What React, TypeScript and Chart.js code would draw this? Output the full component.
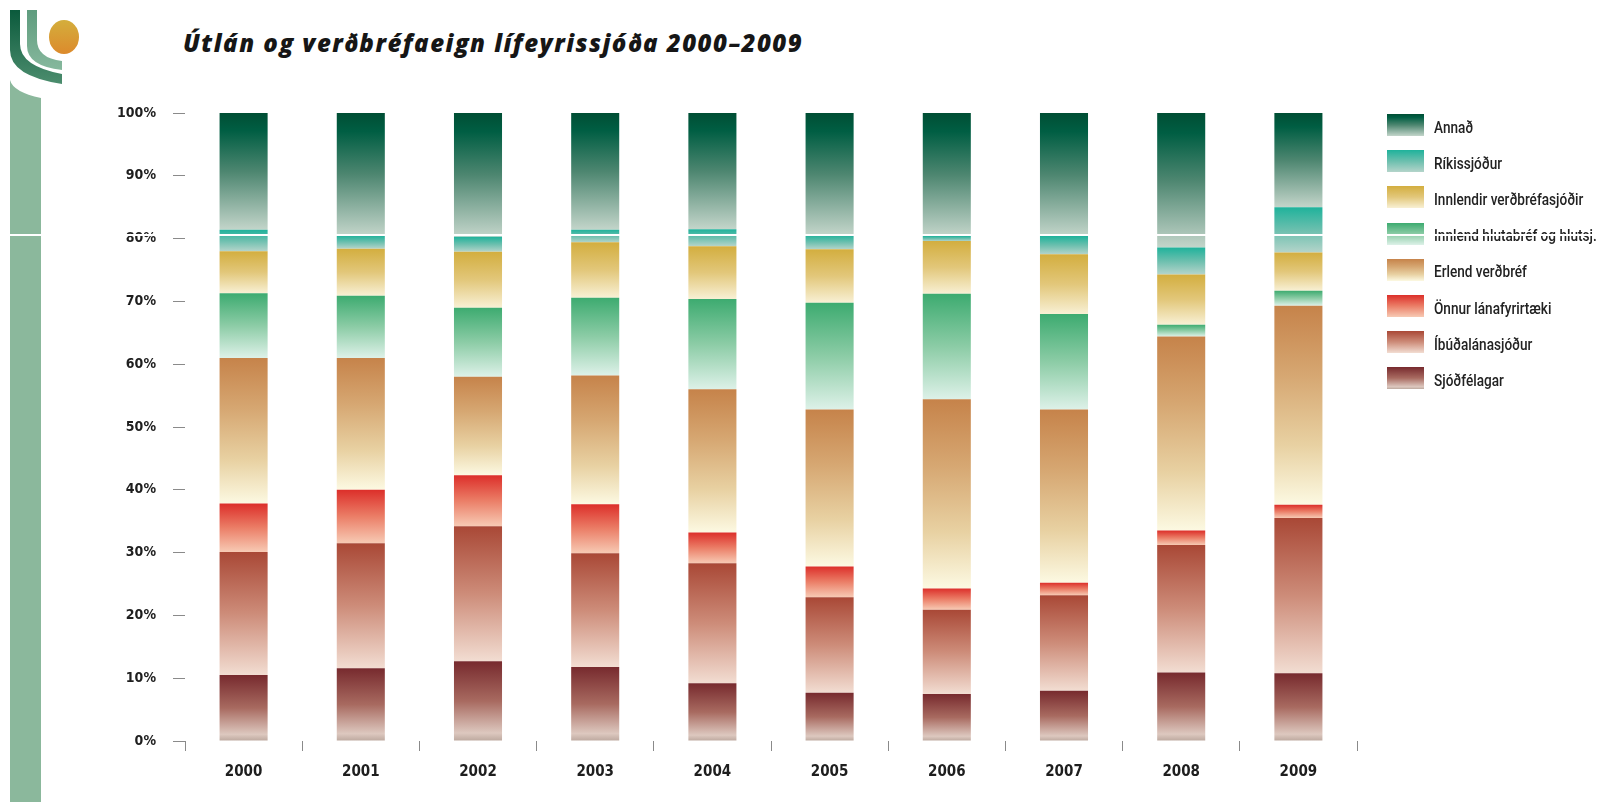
import React, { useEffect, useRef } from "react";
import { Chart, registerables } from "chart.js";

Chart.register(...registerables);

// ---------- DATA ----------
const years = ["2000", "2001", "2002", "2003", "2004", "2005", "2006", "2007", "2008", "2009"];
const sjodfelagar = [10.5, 11.6, 12.7, 11.8, 9.2, 7.7, 7.5, 8.0, 10.9, 10.8];
const ibudalanasjodur = [19.6, 19.9, 21.5, 18.1, 19.1, 15.2, 13.4, 15.2, 20.3, 24.7];
const onnurLanafyrirtaeki = [7.7, 8.5, 8.1, 7.8, 4.9, 4.9, 3.4, 2.0, 2.3, 2.1];
const erlendVerdbref = [23.2, 21.0, 15.7, 20.5, 22.8, 25.0, 30.1, 27.6, 30.9, 31.7];
const innlendHlutabref = [10.3, 9.9, 11.0, 12.4, 14.4, 17.0, 16.8, 15.2, 1.9, 2.4];
const innlendirVerdbrefasjodir = [6.7, 7.5, 8.9, 8.8, 8.4, 8.5, 8.4, 9.5, 8.0, 6.1];
const rikissjodur = [3.4, 2.1, 2.4, 2.0, 2.7, 2.3, 0.8, 2.9, 4.3, 7.2];
const annad = [18.6, 19.5, 19.7, 18.6, 18.5, 19.4, 19.6, 19.6, 21.4, 15.0];

const seriesLabels = [
  "Sjóðfélagar",
  "Íbúðalánasjóður",
  "Önnur lánafyrirtæki",
  "Erlend verðbréf",
  "Innlend hlutabréf og hlutsj.",
  "Innlendir verðbréfasjóðir",
  "Ríkissjóður",
  "Annað",
];
const seriesValues = [
  sjodfelagar,
  ibudalanasjodur,
  onnurLanafyrirtaeki,
  erlendVerdbref,
  innlendHlutabref,
  innlendirVerdbrefasjodir,
  rikissjodur,
  annad,
];
const yMin = 0;
const yMax = 100;
const yStep = 10;
const titleText = "Útlán og verðbréfaeign lífeyrissjóða 2000–2009";

// ---------- STYLE ----------
type Stop = [number, string];
const seriesStops: Stop[][] = [
  [[0, "#772a2e"], [0.5, "#a86a60"], [0.9, "#ddc8bf"], [1, "#bca89e"]],
  [[0, "#a94836"], [0.5, "#cd8c79"], [1, "#f2ddd2"]],
  [[0, "#dc2f2a"], [0.5, "#eb7e67"], [1, "#f7cab4"]],
  [[0, "#c6834a"], [0.35, "#d6a772"], [0.7, "#e8d1a2"], [1, "#fcf9e2"]],
  [[0, "#3dab70"], [0.5, "#8ccca6"], [1, "#ddf1e8"]],
  [[0, "#d3ae3f"], [0.5, "#e2c77a"], [1, "#f8f0d4"]],
  [[0, "#1fb29b"], [0.5, "#6bbfae"], [1, "#b4d4ca"]],
  [[0, "#004e34"], [0.15, "#005e43"], [0.5, "#4d8670"], [1, "#c3d5ca"]],
];

const narrowFont = '"Liberation Sans Narrow", "DejaVu Sans Condensed", "Arial Narrow", sans-serif';

function cssGradient(stops: Stop[]) {
  return "linear-gradient(to bottom, " + stops.map(([p, c]) => `${c} ${p * 100}%`).join(", ") + ")";
}

function makeBackground(dsIndex: number) {
  return (ctx: any) => {
    const stops = seriesStops[dsIndex];
    const chart = ctx.chart;
    const yScale = chart.scales && chart.scales.y;
    if (!chart.chartArea || !yScale || ctx.type !== "data") return stops[0][1];
    const i = ctx.dataIndex;
    let start = 0;
    for (let k = 0; k < dsIndex; k++) start += seriesValues[k][i];
    const end = start + seriesValues[dsIndex][i];
    const top = yScale.getPixelForValue(end);
    const bottom = yScale.getPixelForValue(start);
    if (!isFinite(top) || !isFinite(bottom) || top === bottom) return stops[0][1];
    const g = chart.ctx.createLinearGradient(0, top, 0, bottom);
    stops.forEach(([p, c]) => g.addColorStop(p, c));
    return g;
  };
}

function Logo() {
  return (
    <svg width={90} height={110} style={{ position: "absolute", left: 0, top: 0 }}>
      <defs>
        <linearGradient id="lgDark" x1="0" y1="0" x2="0" y2="1">
          <stop offset="0" stopColor="#0b5a3c" />
          <stop offset="1" stopColor="#4c8d6e" />
        </linearGradient>
        <linearGradient id="lgMid" x1="0" y1="0" x2="0" y2="1">
          <stop offset="0" stopColor="#5f9c7e" />
          <stop offset="1" stopColor="#86b89d" />
        </linearGradient>
        <linearGradient id="lgSun" x1="0" y1="0" x2="0" y2="1">
          <stop offset="0" stopColor="#d4ae3c" />
          <stop offset="1" stopColor="#dc8a2c" />
        </linearGradient>
      </defs>
      <path d="M10,10 H20 V44 Q20,66 62,74 V84 Q10,76 10,50 Z" fill="url(#lgDark)" />
      <path d="M27,10 H37 V40 Q37,58 62,61 V70 Q27,66 27,46 Z" fill="url(#lgMid)" />
      <ellipse cx={64} cy={37} rx={15} ry={17} fill="url(#lgSun)" />
      <path d="M10,80 Q13,92 41,98 V110 H10 Z" fill="#8bb89c" />
    </svg>
  );
}

export default function App() {
  const canvasRef = useRef<HTMLCanvasElement | null>(null);

  useEffect(() => {
    document.body.style.margin = "0";
    const canvas = canvasRef.current;
    if (!canvas) return;
    const chart = new Chart(canvas, {
      type: "bar",
      data: {
        labels: years,
        datasets: seriesValues.map((vals, idx) => ({
          label: seriesLabels[idx],
          data: vals,
          backgroundColor: makeBackground(idx),
          borderWidth: 0,
          barPercentage: 1,
          categoryPercentage: 0.41,
        })),
      },
      options: {
        responsive: false,
        animation: false,
        devicePixelRatio: 1,
        layout: { padding: { left: 0, right: 253, top: 113, bottom: 0 } },
        plugins: {
          legend: { display: false },
          title: { display: false },
          tooltip: { enabled: false },
        },
        scales: {
          x: {
            stacked: true,
            offset: true,
            grid: {
              display: true,
              offset: true,
              drawOnChartArea: false,
              drawTicks: true,
              tickLength: 10,
              color: "#8a8a8a",
            },
            border: { display: false },
            ticks: {
              padding: 12,
              color: "#1e1e1e",
              font: { family: narrowFont, size: 15, weight: "bold" },
            },
            afterFit: (scale: any) => {
              scale.height = 61;
            },
          },
          y: {
            stacked: true,
            min: yMin,
            max: yMax,
            grid: {
              display: true,
              drawOnChartArea: false,
              drawTicks: true,
              tickLength: 12,
              color: "#8a8a8a",
            },
            border: { display: false },
            ticks: {
              stepSize: yStep,
              padding: 17,
              color: "#1e1e1e",
              font: { family: narrowFont, size: 14, weight: "bold" },
              callback: (v: any) => v + "%",
            },
            afterFit: (scale: any) => {
              scale.width = 185;
            },
          },
        },
      },
    });
    return () => chart.destroy();
  }, []);

  const legendOrder = [7, 6, 5, 4, 3, 2, 1, 0];

  return (
    <div
      style={{
        position: "fixed",
        left: 0,
        top: 0,
        width: 1610,
        height: 802,
        background: "#ffffff",
        overflow: "hidden",
      }}
    >
      <Logo />
      <div
        style={{
          position: "absolute",
          left: 10,
          top: 98,
          width: 31,
          height: 704,
          background: "#8bb89c",
        }}
      />
      <div
        style={{
          position: "absolute",
          left: 183,
          top: 26,
          fontFamily: '"Open Sans", "DejaVu Sans", sans-serif',
          fontStyle: "italic",
          fontWeight: 800,
          fontSize: 24,
          color: "#161616",
          whiteSpace: "nowrap",
          letterSpacing: 1.5,
        }}
      >
        {titleText}
      </div>
      <canvas
        ref={canvasRef}
        width={1610}
        height={802}
        style={{ position: "absolute", left: 0, top: 0, width: 1610, height: 802 }}
      />
      {legendOrder.map((si, row) => (
        <div
          key={si}
          style={{
            position: "absolute",
            left: 1387,
            top: 114 + row * 36.2,
            height: 22,
            display: "flex",
            alignItems: "center",
            whiteSpace: "nowrap",
          }}
        >
          <div style={{ width: 37, height: 22, background: cssGradient(seriesStops[si]) }} />
          <div
            style={{
              marginLeft: 10,
              fontFamily: 'Roboto, "DejaVu Sans", sans-serif',
              fontSize: 16,
              fontWeight: 500,
              color: "#222222",
              paddingTop: 4,
              transform: "scaleX(0.85)",
              transformOrigin: "left center",
            }}
          >
            {seriesLabels[si]}
          </div>
        </div>
      ))}
      <div
        style={{
          position: "absolute",
          left: 0,
          top: 234,
          width: 1610,
          height: 2,
          background: "#ffffff",
        }}
      />
    </div>
  );
}
